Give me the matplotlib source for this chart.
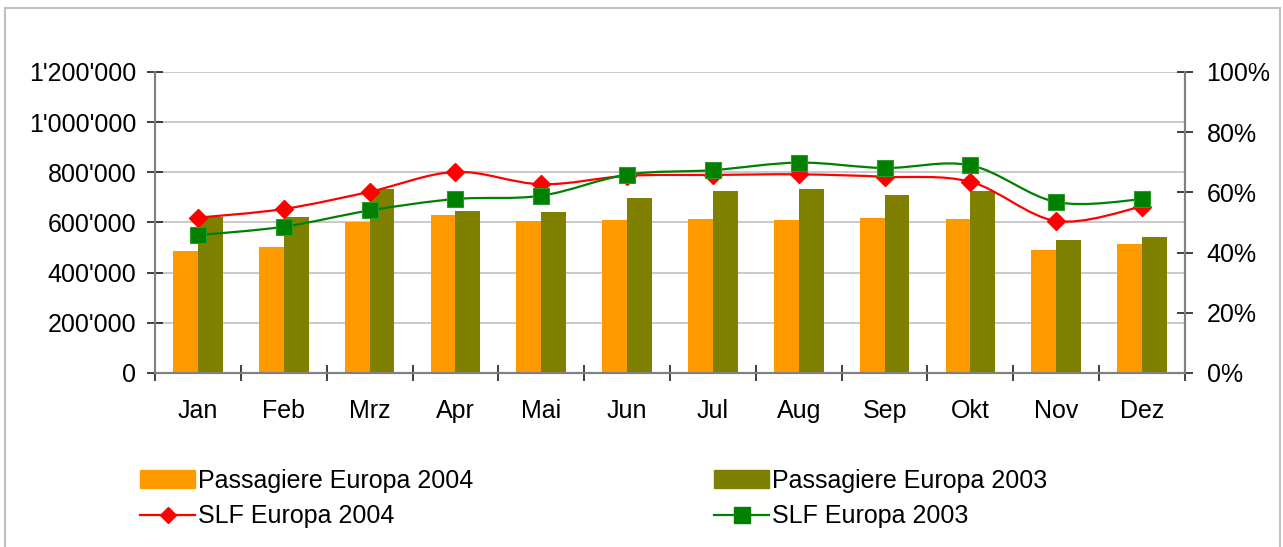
import matplotlib.pyplot as plt
import numpy as np
from matplotlib.lines import Line2D
from matplotlib.patches import Patch, PathPatch, Rectangle
from matplotlib.path import Path
from matplotlib.ticker import FuncFormatter

plt.rcParams['font.family'] = ['Liberation Sans', 'DejaVu Sans']

months = ["Jan", "Feb", "Mrz", "Apr", "Mai", "Jun",
          "Jul", "Aug", "Sep", "Okt", "Nov", "Dez"]
pax_2004 = [486000, 502000, 602000, 630000, 606000, 610000,
            614000, 610000, 618000, 614000, 490000, 514000]
pax_2003 = [622000, 622000, 735000, 646000, 642000, 698000,
            726000, 734000, 710000, 726000, 530000, 542000]
slf_2004 = [51.6, 54.5, 60.2, 66.8, 62.7, 65.5,
            65.8, 66.0, 65.2, 63.5, 50.5, 55.3]
slf_2003 = [45.8, 48.6, 54.0, 57.8, 58.9, 65.9,
            67.4, 69.9, 68.1, 69.0, 56.8, 57.7]

ORANGE = "#FF9900"
OLIVE = "#808000"
RED = "#FF0000"
GREEN = "#008000"
GRID = "#c0c0c0"
SPINE = "#808080"
FS = 18


def smooth_path(xs, ys):
    # excel-like smoothed line: catmull-rom segments as cubic beziers
    pts = np.column_stack([xs, ys]).astype(float)
    n = len(pts)
    verts = [pts[0]]
    codes = [Path.MOVETO]
    for i in range(n - 1):
        p0 = pts[max(i - 1, 0)]
        p1 = pts[i]
        p2 = pts[i + 1]
        p3 = pts[min(i + 2, n - 1)]
        c1 = p1 + (p2 - p0) / 6.0
        c2 = p2 - (p3 - p1) / 6.0
        verts += [c1, c2, p2]
        codes += [Path.CURVE4] * 3
    return Path(verts, codes)


fig = plt.figure(figsize=(12.83, 5.47), dpi=100)
W, H = 1283, 547
ax = fig.add_axes([155 / W, (H - 373) / H, 1030 / W, 301 / H])
ax2 = ax.twinx()

x = np.arange(len(months))
bw = 0.29
ax.bar(x - bw / 2, pax_2004, width=bw, color=ORANGE, zorder=2)
ax.bar(x + bw / 2, pax_2003, width=bw, color=OLIVE, zorder=2)

ax.set_xlim(-0.5, 11.5)
ax.set_ylim(0, 1200000)
ax.set_yticks(np.arange(0, 1200001, 200000))
ax.yaxis.set_major_formatter(
    FuncFormatter(lambda v, p: format(int(v), ",").replace(",", "'")))
ax.grid(axis="y", color=GRID, lw=1.2)
ax.set_axisbelow(True)

ax.set_xticks(x)
ax.set_xticklabels(months)
ax.set_xticks(np.arange(-0.5, 12, 1), minor=True)
ax.tick_params(axis="x", which="major", length=0, pad=19, labelsize=FS)
ax.tick_params(axis="x", which="minor", direction="inout", length=11,
               width=1.2, color="#202020")
ax.tick_params(axis="y", direction="inout", length=11, width=1.2,
               color="#202020", labelsize=FS, pad=8)

for a in (ax, ax2):
    a.spines["top"].set_visible(False)
    for s in ("left", "right", "bottom"):
        a.spines[s].set_color(SPINE)
        a.spines[s].set_linewidth(1.5)

# SLF lines on the right axis
ax2.set_ylim(0, 100)
ax2.set_yticks(np.arange(0, 101, 20))
ax2.yaxis.set_major_formatter(FuncFormatter(lambda v, p: "%d%%" % v))
ax2.tick_params(axis="y", direction="inout", length=11, width=1.2,
                color="#202020", labelsize=FS, pad=10)

ax2.add_patch(PathPatch(smooth_path(x, slf_2004), fill=False,
                        edgecolor=RED, lw=1.6, zorder=3))
ax2.plot(x, slf_2004, linestyle="none", marker="D", ms=9,
         color=RED, zorder=4)
ax2.add_patch(PathPatch(smooth_path(x, slf_2003), fill=False,
                        edgecolor=GREEN, lw=1.6, zorder=5))
ax2.plot(x, slf_2003, linestyle="none", marker="s", ms=11.5,
         color=GREEN, markeredgecolor="#2a9a2a", markeredgewidth=0.8,
         zorder=6)

# legends
leg_kw = dict(frameon=False, fontsize=FS, handlelength=2.2,
              handletextpad=0.12, handleheight=0.72, labelspacing=0.46,
              borderpad=0, borderaxespad=0, loc="upper left")
h1 = [Patch(color=ORANGE),
      Line2D([], [], color=RED, lw=1.6, marker="D", ms=8.5)]
h2 = [Patch(color=OLIVE),
      Line2D([], [], color=GREEN, lw=1.6, marker="s", ms=11)]
fig.legend(h1, ["Passagiere Europa 2004", "SLF Europa 2004"],
           bbox_to_anchor=(140 / W, 1 - 469 / H), **leg_kw)
fig.legend(h2, ["Passagiere Europa 2003", "SLF Europa 2003"],
           bbox_to_anchor=(714 / W, 1 - 469 / H), **leg_kw)

# outer chart border
fig.add_artist(Rectangle((5 / W, -0.01), 1275 / W, 1 - 8 / H + 0.01,
                         transform=fig.transFigure, fill=False,
                         edgecolor="#c0c0c0", lw=1.5))

fig.savefig("out.png", dpi=100)
